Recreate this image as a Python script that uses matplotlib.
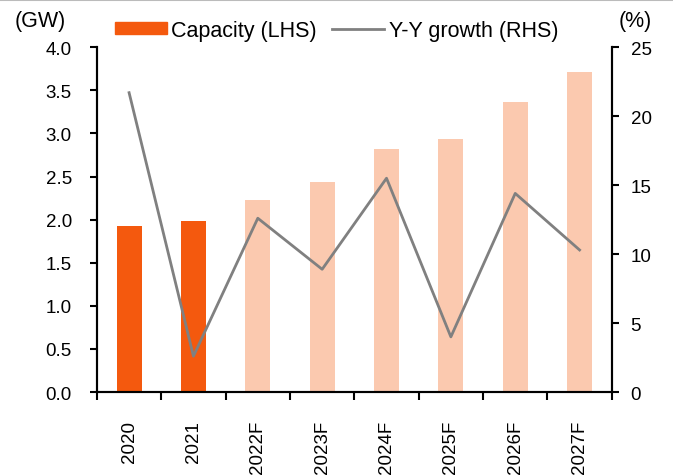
import numpy as np
import matplotlib.pyplot as plt
from matplotlib.lines import Line2D

plt.rcParams['font.family'] = ['Liberation Sans', 'DejaVu Sans']

years = ['2020', '2021', '2022F', '2023F', '2024F', '2025F', '2026F', '2027F']
capacity = [1.93, 1.98, 2.23, 2.44, 2.82, 2.93, 3.36, 3.71]
growth = [21.7, 2.6, 12.6, 8.9, 15.5, 4.0, 14.4, 10.3]
is_forecast = [False, False, True, True, True, True, True, True]

dark = '#F4590E'
light = '#FBC9AF'
fs = 13.5
fs_big = 15.5

fig = plt.figure(figsize=(6.73, 4.77), dpi=100)
ax = fig.add_axes([0.144, 0.176, 0.765, 0.723])
x = np.arange(len(years))
colors = [light if f else dark for f in is_forecast]
ax.bar(x, capacity, width=0.39, color=colors)
ax.set_xlim(-0.5, len(years) - 0.5)
ax.set_ylim(0, 4.0)
ax.set_yticks(np.arange(0, 4.01, 0.5))
ax.set_yticklabels([f'{v:.1f}' for v in np.arange(0, 4.01, 0.5)], fontsize=fs)
ax.set_xticks(np.arange(-0.5, len(years), 1.0), minor=False)
ax.set_xticklabels([])
ax.set_xticks(x, minor=True)
ax.set_xticklabels(years, minor=True, rotation=90, fontsize=fs)
ax.tick_params(axis='x', which='minor', length=0, pad=20)
ax.tick_params(axis='x', which='major', length=6, width=1.5, direction='out')
ax.tick_params(axis='y', length=5, width=1.5, direction='out', pad=13)

ax2 = ax.twinx()
ax2.plot(x, growth, color='#808080', lw=2)
ax2.set_ylim(0, 25)
ax2.set_yticks(range(0, 26, 5))
ax2.tick_params(axis='y', labelsize=fs, length=5, width=1.5, direction='out', pad=8.5)

for a in (ax, ax2):
    a.spines['top'].set_visible(False)
    for s in ('left', 'right', 'bottom'):
        a.spines[s].set_linewidth(1.5)

fig.text(0.060, 0.954, '(GW)', fontsize=fs_big, ha='center', va='center')
fig.text(0.944, 0.954, '(%)', fontsize=fs_big, ha='center', va='center')

handles = [plt.Rectangle((0, 0), 1, 1, color=dark),
           Line2D([0], [0], color='#808080', lw=2)]
fig.legend(handles, ['Capacity (LHS)', 'Y-Y growth (RHS)'], loc='center',
           bbox_to_anchor=(0.5, 0.935), ncol=2, frameon=False, fontsize=fs_big,
           handlelength=2.42, handleheight=0.5, columnspacing=0.7, handletextpad=0.2)

fig.add_artist(Line2D([0, 1], [0.997, 0.997], color='#BBBBBB', lw=1.5, transform=fig.transFigure))

fig.savefig('out.png', dpi=100)
